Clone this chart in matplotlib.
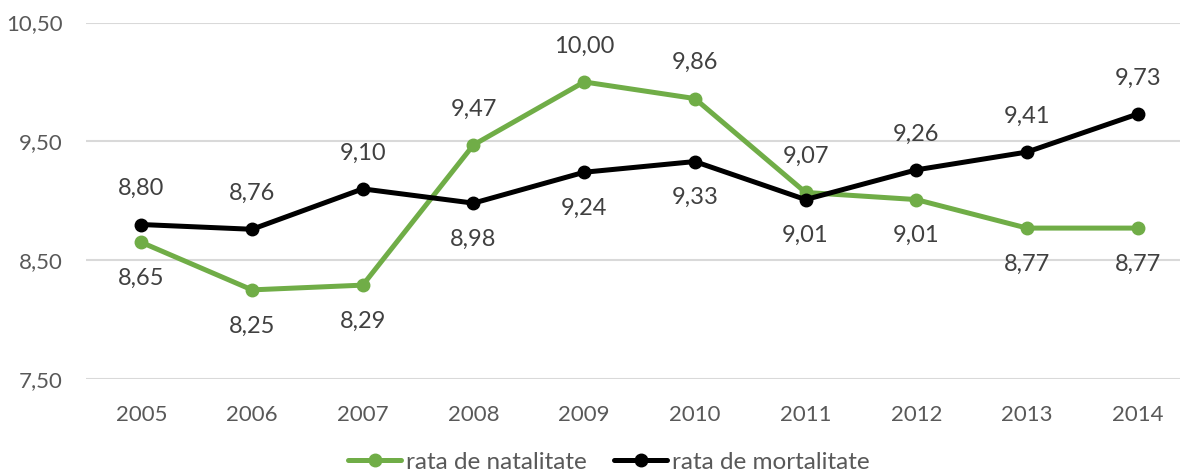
import matplotlib.pyplot as plt

plt.rcParams['font.family'] = ['Lato', 'DejaVu Sans']

years = ['2005', '2006', '2007', '2008', '2009', '2010', '2011', '2012', '2013', '2014']
natalitate = [8.65, 8.25, 8.29, 9.47, 10.00, 9.86, 9.07, 9.01, 8.77, 8.77]
mortalitate = [8.80, 8.76, 9.10, 8.98, 9.24, 9.33, 9.01, 9.26, 9.41, 9.73]
# +1 = label above the point, -1 = below
nat_side = [-1, -1, -1, 1, 1, 1, 1, -1, -1, -1]
mort_side = [1, 1, 1, -1, -1, -1, -1, 1, 1, 1]
yticks = [7.5, 8.5, 9.5, 10.5]

green = '#70AD47'
black = '#000000'


def fmt(v):
    return f'{v:.2f}'.replace('.', ',')


fig = plt.figure(figsize=(11.8, 4.75), dpi=100)
ax = fig.add_axes([86 / 1180, 0.2021, (1180 - 86) / 1180, 0.7505])

x = list(range(len(years)))
ax.plot(x, natalitate, color=green, lw=3.6, marker='o', ms=9,
        solid_capstyle='round', label='rata de natalitate')
ax.plot(x, mortalitate, color=black, lw=3.6, marker='o', ms=9,
        solid_capstyle='round', label='rata de mortalitate')

for xi, v, s in zip(x, natalitate, nat_side):
    ax.annotate(fmt(v), (xi, v), xytext=(0, 36 * s), textcoords='offset pixels',
                ha='center', va='center', fontsize=17, color='#404040')
for xi, v, s in zip(x, mortalitate, mort_side):
    ax.annotate(fmt(v), (xi, v), xytext=(0, 36 * s), textcoords='offset pixels',
                ha='center', va='center', fontsize=17, color='#404040')

ax.set_xlim(-0.5, 9.5 - 13 / 110.7)
ax.set_ylim(7.5, 10.5)
ax.set_xticks(x)
ax.set_xticklabels(years)
ax.set_yticks(yticks)
ax.set_yticklabels([fmt(v) for v in yticks])
ax.tick_params(axis='both', length=0, labelsize=16, labelcolor='#595959')
ax.tick_params(axis='x', pad=19)
ax.tick_params(axis='y', pad=17)
ax.grid(axis='y', color='#D9D9D9', lw=1.5)
ax.set_axisbelow(True)
for sp in ax.spines.values():
    sp.set_visible(False)

fig.legend(loc='center', bbox_to_anchor=(0.516, 0.027), ncol=2, frameon=False,
           fontsize=17.5, labelcolor='#595959', handlelength=2.2, handletextpad=0.2,
           columnspacing=1.1)

fig.savefig('out.png', dpi=100)
